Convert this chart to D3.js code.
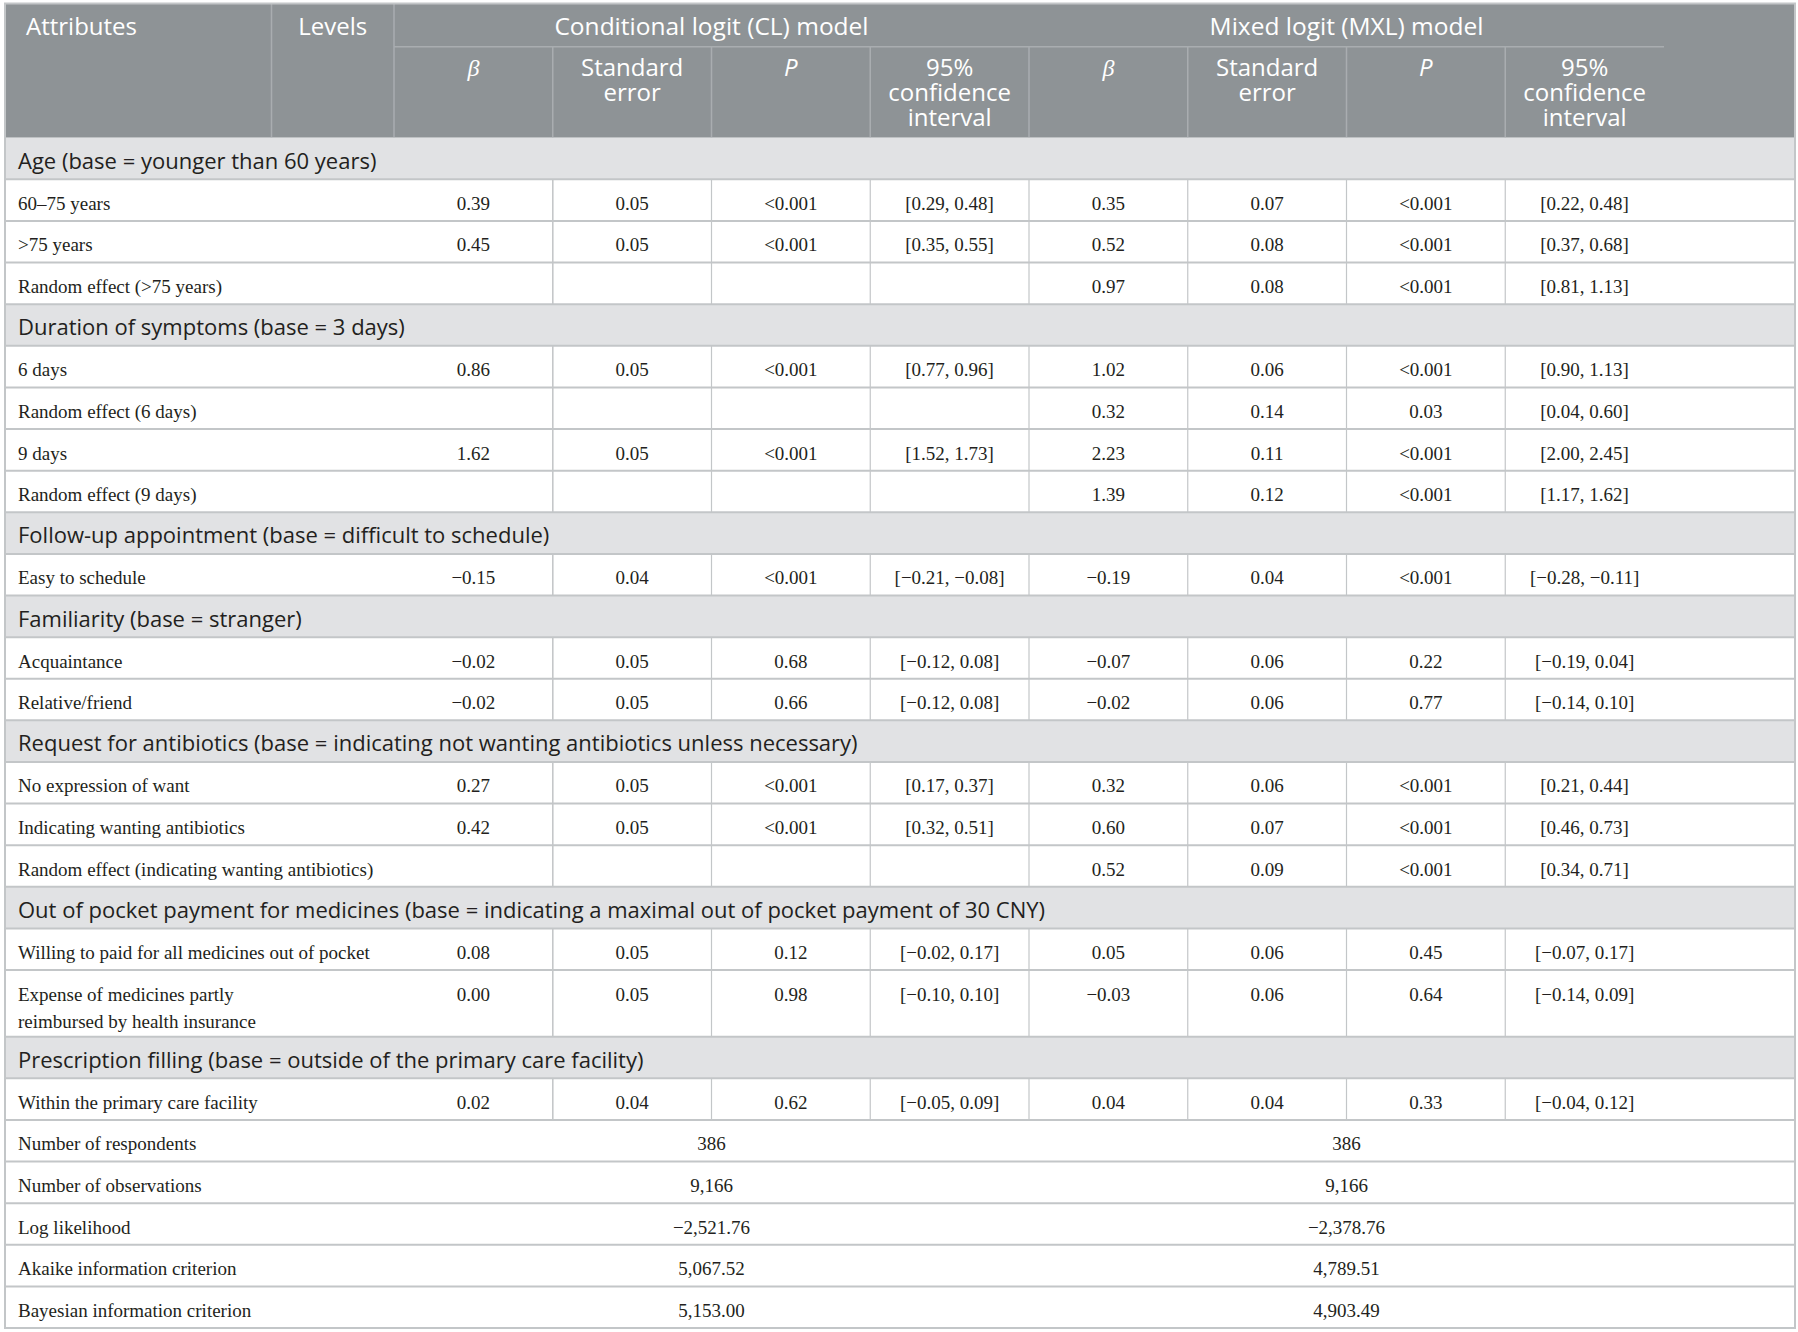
<!DOCTYPE html>
<html>
<head>
<meta charset="utf-8">
<script src="https://cdn.jsdelivr.net/npm/d3@7"></script>
<style>
  body { margin: 0; background: #fff; }
  .sans { font-family: "Open Sans", "Noto Sans", sans-serif; }
  .serif { font-family: "Liberation Serif", "DejaVu Serif", serif; }
</style>
</head>
<body>
<div id="chart"></div>
<script>
// header texts
const groupTitles = ['Conditional logit (CL) model', 'Mixed logit (MXL) model'];
const colKeys = ['clB', 'clSE', 'clP', 'clCI', 'mxB', 'mxSE', 'mxP', 'mxCI'];
const subHeads = [['β'], ['Standard', 'error'], ['P'], ['95%', 'confidence', 'interval']];

// attribute sections
const sectionTitles = [
  'Age (base = younger than 60 years)',
  'Duration of symptoms (base = 3 days)',
  'Follow-up appointment (base = difficult to schedule)',
  'Familiarity (base = stranger)',
  'Request for antibiotics (base = indicating not wanting antibiotics unless necessary)',
  'Out of pocket payment for medicines (base = indicating a maximal out of pocket payment of 30 CNY)',
  'Prescription filling (base = outside of the primary care facility)'
];

// levels (section index for each level)
const levelSection = [0, 0, 0, 1, 1, 1, 1, 2, 3, 3, 4, 4, 4, 5, 5, 6];
const levelLabels = [
  '60–75 years', '>75 years', 'Random effect (>75 years)',
  '6 days', 'Random effect (6 days)', '9 days', 'Random effect (9 days)',
  'Easy to schedule',
  'Acquaintance', 'Relative/friend',
  'No expression of want', 'Indicating wanting antibiotics', 'Random effect (indicating wanting antibiotics)',
  'Willing to paid for all medicines out of pocket', 'Expense of medicines partly|reimbursed by health insurance',
  'Within the primary care facility'
];

// conditional logit
const clBeta = ['0.39', '0.45', '', '0.86', '', '1.62', '', '−0.15', '−0.02', '−0.02', '0.27', '0.42', '', '0.08', '0.00', '0.02'];
const clSE   = ['0.05', '0.05', '', '0.05', '', '0.05', '', '0.04', '0.05', '0.05', '0.05', '0.05', '', '0.05', '0.05', '0.04'];
const clP    = ['<0.001', '<0.001', '', '<0.001', '', '<0.001', '', '<0.001', '0.68', '0.66', '<0.001', '<0.001', '', '0.12', '0.98', '0.62'];
const clCI   = ['[0.29, 0.48]', '[0.35, 0.55]', '', '[0.77, 0.96]', '', '[1.52, 1.73]', '', '[−0.21, −0.08]',
                '[−0.12, 0.08]', '[−0.12, 0.08]', '[0.17, 0.37]', '[0.32, 0.51]', '', '[−0.02, 0.17]', '[−0.10, 0.10]', '[−0.05, 0.09]'];

// mixed logit
const mxBeta = ['0.35', '0.52', '0.97', '1.02', '0.32', '2.23', '1.39', '−0.19', '−0.07', '−0.02', '0.32', '0.60', '0.52', '0.05', '−0.03', '0.04'];
const mxSE   = ['0.07', '0.08', '0.08', '0.06', '0.14', '0.11', '0.12', '0.04', '0.06', '0.06', '0.06', '0.07', '0.09', '0.06', '0.06', '0.04'];
const mxP    = ['<0.001', '<0.001', '<0.001', '<0.001', '0.03', '<0.001', '<0.001', '<0.001', '0.22', '0.77', '<0.001', '<0.001', '<0.001', '0.45', '0.64', '0.33'];
const mxCI   = ['[0.22, 0.48]', '[0.37, 0.68]', '[0.81, 1.13]', '[0.90, 1.13]', '[0.04, 0.60]', '[2.00, 2.45]', '[1.17, 1.62]', '[−0.28, −0.11]',
                '[−0.19, 0.04]', '[−0.14, 0.10]', '[0.21, 0.44]', '[0.46, 0.73]', '[0.34, 0.71]', '[−0.07, 0.17]', '[−0.14, 0.09]', '[−0.04, 0.12]'];

// model fit
const fitLabels = ['Number of respondents', 'Number of observations', 'Log likelihood', 'Akaike information criterion', 'Bayesian information criterion'];
const clFit = ['386', '9,166', '−2,521.76', '5,067.52', '5,153.00'];
const mxFit = ['386', '9,166', '−2,378.76', '4,789.51', '4,903.49'];

//dimensions
const width = 1798, height = 1332;
const tLeft = 5, tRight = 1795, tTop = 3.5, headMid = 46.7, headBottom = 137.7, tBottom = 1328;
const colors = { head: '#8e9396', headLine: '#a9adb0', section: '#e1e2e4', line: '#c3c6c8', text: '#231f20' };

// build rows from the arrays
const rows = [];
sectionTitles.forEach((title, s) => {
  rows.push({ kind: 'section', label: title, units: 1 });
  levelLabels.forEach((lab, i) => {
    if (levelSection[i] !== s) return;
    const lines = lab.split('|');
    rows.push({
      kind: 'level', label: lines, units: lines.length > 1 ? 1.6 : 1,
      cells: [clBeta[i], clSE[i], clP[i], clCI[i], mxBeta[i], mxSE[i], mxP[i], mxCI[i]]
    });
  });
});
fitLabels.forEach((lab, i) => rows.push({ kind: 'fit', label: [lab], units: 1, cl: clFit[i], mx: mxFit[i] }));

let acc = 0;
rows.forEach(r => { r.u0 = acc; acc += r.units; r.u1 = acc; });

//scales
const x = d3.scaleBand().domain(colKeys).range([394, 1664]);
const y = d3.scaleLinear().domain([0, acc]).range([headBottom, tBottom]);

const svg = d3.select('#chart').append('svg')
  .attr('width', width)
  .attr('height', height);

// header block
const head = svg.append('g').attr('class', 'header');
head.append('rect')
  .attr('x', tLeft).attr('y', tTop)
  .attr('width', tRight - tLeft).attr('height', headBottom - tTop)
  .attr('fill', colors.head);

head.append('line')
  .attr('x1', x('clB')).attr('x2', x('mxCI') + x.bandwidth())
  .attr('y1', headMid).attr('y2', headMid)
  .attr('stroke', colors.headLine).attr('stroke-width', 1.5);

[271.5, x('clB')].forEach(xx => head.append('line')
  .attr('x1', xx).attr('x2', xx).attr('y1', tTop).attr('y2', headBottom)
  .attr('stroke', colors.headLine).attr('stroke-width', 1.5));

head.selectAll('.subline').data(colKeys.slice(1)).join('line')
  .attr('x1', d => x(d)).attr('x2', d => x(d))
  .attr('y1', headMid).attr('y2', headBottom)
  .attr('stroke', colors.headLine).attr('stroke-width', 1.5);

head.append('text').attr('class', 'sans')
  .attr('x', 26).attr('y', 35).attr('fill', '#fff').attr('font-size', 24)
  .text('Attributes');
head.append('text').attr('class', 'sans')
  .attr('x', (271.5 + x('clB')) / 2).attr('y', 35).attr('fill', '#fff').attr('font-size', 24)
  .attr('text-anchor', 'middle').text('Levels');

head.selectAll('.group').data(groupTitles).join('text')
  .attr('class', 'sans')
  .attr('x', (d, i) => x(colKeys[i * 4]) + x.bandwidth() * 2)
  .attr('y', 35).attr('fill', '#fff').attr('font-size', 24.5)
  .attr('text-anchor', 'middle').text(d => d);

// sub headers, one text per line
colKeys.forEach((k, i) => {
  const lines = subHeads[i % 4];
  head.selectAll('.sub-' + k).data(lines).join('text')
    .attr('class', i % 4 === 0 ? 'serif' : 'sans')
    .attr('x', x(k) + x.bandwidth() / 2)
    .attr('y', (d, j) => 76 + j * 25)
    .attr('fill', '#fff').attr('font-size', 24)
    .attr('text-anchor', 'middle')
    .attr('font-style', (i % 4 === 0 || i % 4 === 2) ? 'italic' : null)
    .text(d => d);
});

// body rows
const body = svg.append('g').attr('class', 'body');
const rowG = body.selectAll('.row').data(rows).join('g')
  .attr('class', d => 'row ' + d.kind)
  .attr('transform', d => `translate(0, ${y(d.u0)})`);

rowG.filter(d => d.kind === 'section').append('rect')
  .attr('x', tLeft).attr('width', tRight - tLeft)
  .attr('height', d => y(d.u1) - y(d.u0))
  .attr('fill', colors.section);

rowG.filter(d => d.kind === 'section').append('text')
  .attr('class', 'sans')
  .attr('x', 18).attr('y', 31).attr('font-size', 22)
  .attr('fill', colors.text).text(d => d.label);

// level rows
const levels = rowG.filter(d => d.kind === 'level');
levels.selectAll('.vline').data(colKeys.slice(1).concat(['end'])).join('line')
  .attr('x1', d => d === 'end' ? x('clSE') : x(d))
  .attr('x2', d => d === 'end' ? x('clSE') : x(d))
  .attr('y1', 0)
  .attr('y2', function() { const r = d3.select(this.parentNode).datum(); return y(r.u1) - y(r.u0); })
  .attr('stroke', colors.line).attr('stroke-width', 1.2);

levels.each(function(r) {
  const g = d3.select(this);
  g.selectAll('.lab').data(r.label).join('text')
    .attr('class', 'serif')
    .attr('x', 18).attr('y', (d, j) => 30.5 + j * 27)
    .attr('font-size', 19).attr('fill', colors.text)
    .text(d => d);
  g.selectAll('.val').data(r.cells).join('text')
    .attr('class', 'serif')
    .attr('x', (d, i) => x(colKeys[i]) + x.bandwidth() / 2)
    .attr('y', 30.5).attr('font-size', 19).attr('fill', colors.text)
    .attr('text-anchor', 'middle').text(d => d);
});

// model fit rows
const fits = rowG.filter(d => d.kind === 'fit');
fits.append('text').attr('class', 'serif')
  .attr('x', 18).attr('y', 30.5).attr('font-size', 19).attr('fill', colors.text)
  .text(d => d.label[0]);
fits.append('text').attr('class', 'serif')
  .attr('x', x('clB') + x.bandwidth() * 2).attr('y', 30.5).attr('font-size', 19)
  .attr('fill', colors.text).attr('text-anchor', 'middle').text(d => d.cl);
fits.append('text').attr('class', 'serif')
  .attr('x', x('mxB') + x.bandwidth() * 2).attr('y', 30.5).attr('font-size', 19)
  .attr('fill', colors.text).attr('text-anchor', 'middle').text(d => d.mx);

// horizontal rules between rows
body.selectAll('.hline').data(rows).join('line')
  .attr('x1', tLeft).attr('x2', tRight)
  .attr('y1', d => y(d.u1)).attr('y2', d => y(d.u1))
  .attr('stroke', colors.line).attr('stroke-width', 2);

// outer border
svg.append('rect')
  .attr('x', tLeft).attr('y', tTop)
  .attr('width', tRight - tLeft).attr('height', tBottom - tTop)
  .attr('fill', 'none').attr('stroke', colors.line).attr('stroke-width', 2);
</script>
</body>
</html>
